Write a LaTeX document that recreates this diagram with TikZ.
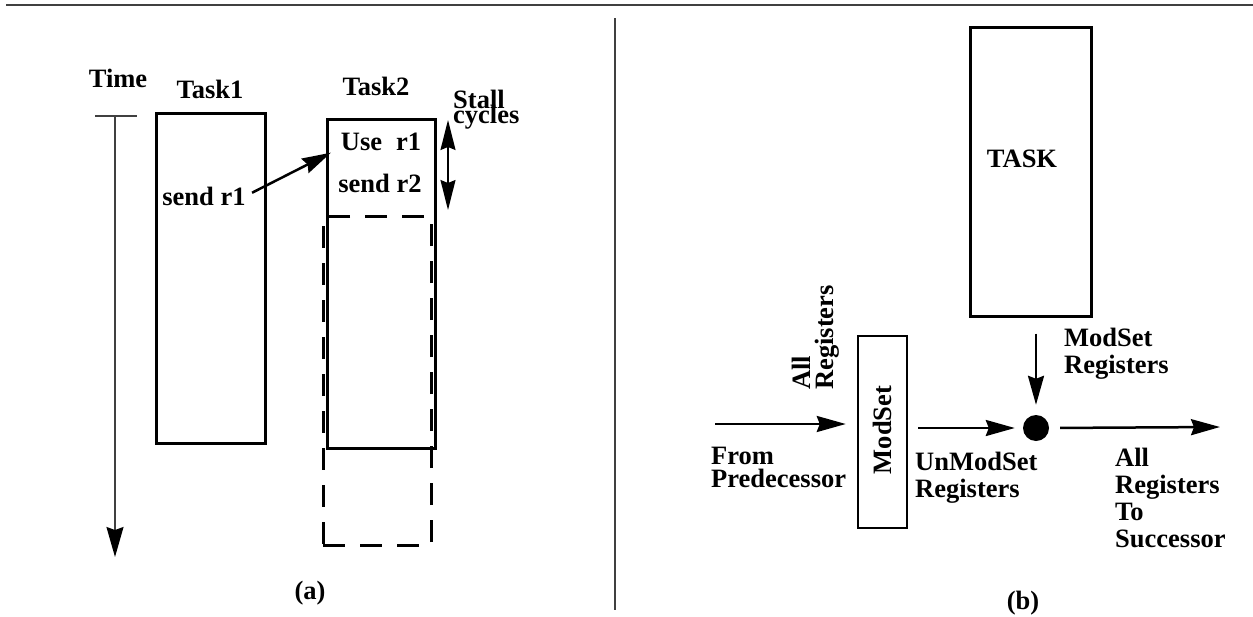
\documentclass[tikz,border=0pt]{standalone}
\usepackage{fontspec}
\setmainfont{Liberation Serif}
\usepackage{xcolor}
\definecolor{cMain}{HTML}{000000}
\definecolor{cGray}{HTML}{404040}
\usetikzlibrary{positioning,arrows.meta}
\tikzset{
  lbl/.style={font=\fontsize{26.5}{27}\selectfont\bfseries,inner sep=0pt,text=cMain},
  lbl-block/.style={lbl,align=left},
  lbl-tight/.style={lbl-block,font=\fontsize{26.5}{23}\selectfont\bfseries},
  task-box/.style={draw=cMain,line width=3pt,inner sep=0pt},
  task-ghost/.style={draw=cMain,line width=3pt,dash pattern=on 22pt off 15pt,inner sep=0pt},
  merge-dot/.style={circle,fill=cMain,minimum size=26pt,inner sep=0pt},
  arrow/.style={-{Stealth[length=29pt,width=16pt,inset=3pt]},line width=2.5pt,draw=cMain},
  arrow-time/.style={-{Stealth[length=30pt,width=17pt,inset=3pt,color=cMain]},line width=1.5pt,draw=cGray},
  arrow-both/.style={{Stealth[length=30pt,width=15pt,inset=3pt]}-{Stealth[length=30pt,width=15pt,inset=3pt]},line width=1.5pt,draw=cMain},
  rule/.style={line width=2.5pt,draw=cGray},
  divider/.style={line width=1.5pt,draw=cGray},
}
\begin{document}
\begin{tikzpicture}[x=1pt,y=-1pt]
  \useasboundingbox (0,0) rectangle (1253,616);
  \draw[rule] (6,5) -- (1253,5);
  \draw[divider] (615,18) -- (615,610);

  % (a) time line and the two tasks
  \coordinate (time-top) at (115,116);
  \coordinate (time-end) at (115,557);
  \node[lbl,anchor=base] (time) at (118,87) {Time};
  \draw[divider] (95,116) -- (137,116);
  \draw[arrow-time] (time-top) -- (time-end);

  \node[task-box,minimum width=109pt,minimum height=330pt] (task1) at (210.5,278) {};
  \node[lbl,anchor=base] (task1-lbl) at (210,98) {Task1};
  \node[lbl,anchor=base] (send-r1) at (204,205) {send r1};

  \node[task-ghost,minimum width=108pt,minimum height=329pt] (task2-late) at (377,380.5) {};
  \node[task-box,minimum width=108pt,minimum height=329pt] (task2) at (381,283.5) {};
  \node[lbl,anchor=base] (task2-lbl) at (376,95) {Task2};
  \node[lbl,anchor=base] (use-r1) at (381,150) {Use\hspace{14pt}r1};
  \node[lbl,anchor=base] (send-r2) at (380,192) {send r2};
  \draw[arrow,shorten <=7pt,shorten >=11pt] (send-r1.east) -- (use-r1.mid west);

  \coordinate (stall-top) at (448,120);
  \coordinate (stall-bot) at (448,210);
  \draw[arrow-both] (stall-top) -- (stall-bot);
  \node[lbl-block,anchor=base west] (stall) at (453,123) {Stall\\[-12pt]cycles};

  \node[lbl,anchor=base] (cap-a) at (310,599) {(a)};

  % (b) register forwarding
  \node[task-box,minimum width=121pt,minimum height=289pt] (task) at (1030.5,171.5) {};
  \node[lbl,anchor=base] (task-lbl) at (1022,167) {TASK};
  \node[task-box,line width=2.5pt,minimum width=49pt,minimum height=192pt] (modset) at (882.5,432) {};
  \node[lbl,rotate=90] (modset-lbl) at (882,430) {ModSet};
  \node[merge-dot] (merge) at (1036,428) {};
  \coordinate (pred-in) at (715,424);
  \coordinate (succ-out) at (1220,427);

  \draw[arrow,shorten >=11pt] (pred-in) -- (modset.west |- pred-in);
  \draw[arrow,shorten <=10pt,shorten >=8pt] (modset.east |- merge) -- (merge.west);
  \draw[arrow,shorten <=16pt,shorten >=10pt] (task.south -| merge) -- (merge.north);
  \draw[arrow,shorten <=11pt] (merge.east) -- (succ-out);

  \node[lbl-tight,rotate=90,anchor=base west] (all-reg-in) at (833,390) {All\\Registers};
  \node[lbl-tight,anchor=base west] (from-pred) at (711,487) {From\\Predecessor};
  \node[lbl-block,anchor=base west] (unmod-lbl) at (915,497) {UnModSet\\Registers};
  \node[lbl-block,anchor=base west] (mod-lbl) at (1064,373) {ModSet\\Registers};
  \node[lbl-block,anchor=base west] (succ-lbl) at (1115,547) {All\\Registers\\To\\Successor};

  \node[lbl,anchor=base] (cap-b) at (1023,609) {(b)};
\end{tikzpicture}
\end{document}
